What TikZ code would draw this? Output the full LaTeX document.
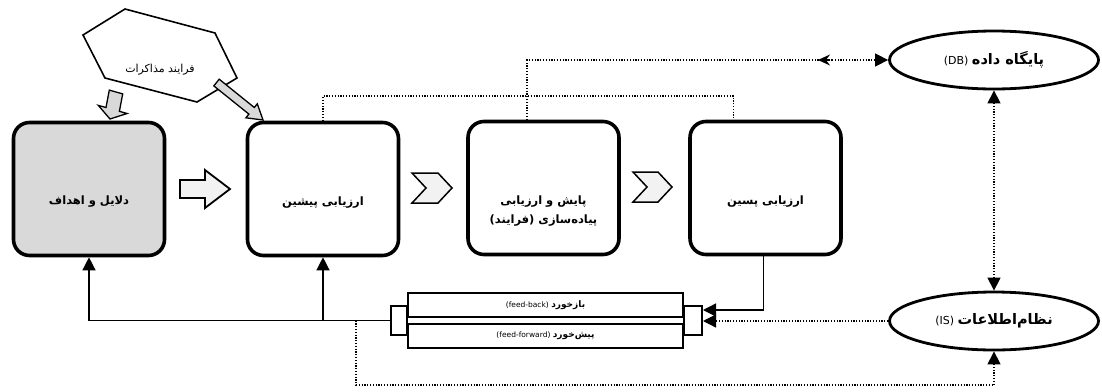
\documentclass[tikz,border=0pt]{standalone}
\usepackage{fontspec}
\setmainfont{DejaVu Sans}
\newfontfamily\fa[Script=Arabic]{DejaVu Sans}
\TeXXeTstate=1
\usepackage{tikz}
\usetikzlibrary{arrows.meta}
\usetikzlibrary{shapes.geometric}

\begin{document}
\begin{tikzpicture}[x=1pt, y=-1pt, >={Triangle[length=13pt,width=13pt]},
  stage/.style={draw, line width=3.6pt, rounded corners=16pt, minimum width=151pt, minimum height=133pt},
  stagetext/.style={align=center, font=\fa\bfseries\fontsize{11.5}{19}\selectfont},
  store/.style={draw, ellipse, line width=2.8pt, minimum width=209pt, minimum height=58pt, font=\fontsize{11}{14}\selectfont},
  bar/.style={draw, line width=2pt, fill=white, minimum width=275pt, minimum height=24pt, font=\fontsize{7.5}{9}\selectfont},
  joint/.style={draw, line width=2pt, fill=white, minimum height=29pt},
  flow/.style={line width=1.3pt},
  info/.style={line width=1.3pt, dash pattern=on 1.2pt off 1.6pt},
  bigarrow/.style={draw, line width=1.8pt, fill=gray!10},
  grayarrow/.style={draw, line width=1.3pt, fill=gray!30}]
\useasboundingbox (0,0) rectangle (1102,391);

\node[stage, fill=gray!30, label={[stagetext, yshift=-13pt]center:\beginR دلایل و اهداف\endR}] (goals) at (89,189) {};
\node[stage, label={[stagetext, yshift=-14pt]center:\beginR ارزیابی پیشین\endR}] (pre) at (323,189) {};
\node[stage, label={[stagetext, yshift=-23pt]center:\beginR پایش و ارزیابی\endR\\\beginR پیاده‌سازی (فرایند)\endR}] (mon) at (543.5,188) {};
\node[stage, label={[stagetext, yshift=-14pt]center:\beginR ارزیابی پسین\endR}] (post) at (765.5,188) {};

\node[store] (db) at (994,60) {(DB) {\fa\bfseries\fontsize{14.5}{16}\selectfont\beginR پایگاه داده\endR}};
\node[store] (is) at (994,321) {(IS) {\fa\bfseries\fontsize{14.5}{16}\selectfont نظام‌اطلاعات}};

\node[joint, minimum width=16pt] (jl) at (399,320.5) {};
\node[joint, minimum width=18pt] (jr) at (693,320.5) {};
\node[bar] (fb) at (545.5,305) {(feed-back) {\fa\bfseries\fontsize{9}{11}\selectfont بازخورد}};
\node[bar] (ff) at (545.5,336) {(feed-forward) {\fa\bfseries\fontsize{9}{11}\selectfont پیش‌خورد}};

\draw[line width=1.6pt, fill=white] (125,9) -- (215,33) -- (237,78) -- (197,102) -- (105,78) -- (83,35) -- cycle;
\node[font=\fa\fontsize{11}{13}\selectfont] (talks) at (160,70) {\beginR فرایند مذاکرات\endR};

\draw[grayarrow] (109.3,90.1) -- (106,107.5) -- (98.3,105.4) -- (110,119) -- (127.1,113.5) -- (119.4,111.3) -- (122.7,93.9) -- cycle;
\draw[grayarrow] (213.8,85.9) -- (248.9,114.1) -- (245.9,117.8) -- (263,120) -- (257.3,103.8) -- (254.3,107.5) -- (219.2,79.2) -- cycle;

\draw[bigarrow] (180,180) -- (205,180) -- (205,170) -- (230,189) -- (205,208) -- (205,198) -- (180,198) -- cycle;
\draw[bigarrow, line width=1.5pt] (412,173) -- (438,173) -- (452,188) -- (438,203) -- (412,203) -- (426,188) -- cycle;
\draw[bigarrow, line width=1.5pt] (633,172) -- (658,172) -- (672,187) -- (658,202) -- (633,202) -- (647,187) -- cycle;

\draw[flow, ->] ([xshift=-2pt]post.south) |- (jr.east |- 0,310);
\draw[info, ->] (is.west) -- (is.west -| jr.east);
\draw[flow, ->] (jl.west) -| (goals.south);
\draw[flow, ->] (jl.west -| pre.south) -- (pre.south);
\coordinate (ffs) at (356,320.5);
\draw[info, ->] (ffs) |- (is.south |- 0,385) -- (is.south);
\draw[info, <->] (db.south) -- (is.north);

\draw[info] (pre.north) -- (pre.north |- 0,96) -| ([xshift=-32pt]post.north);
\coordinate (dbm) at (818,60);
\draw[info] ([xshift=-16.5pt]mon.north) |- (dbm);
\draw[info, ->] (dbm) -- (db.west);
\draw[info, -{Stealth[length=12pt,width=11pt,inset=4pt]}] ([xshift=14pt]dbm) -- (dbm);
\end{tikzpicture}
\end{document}
